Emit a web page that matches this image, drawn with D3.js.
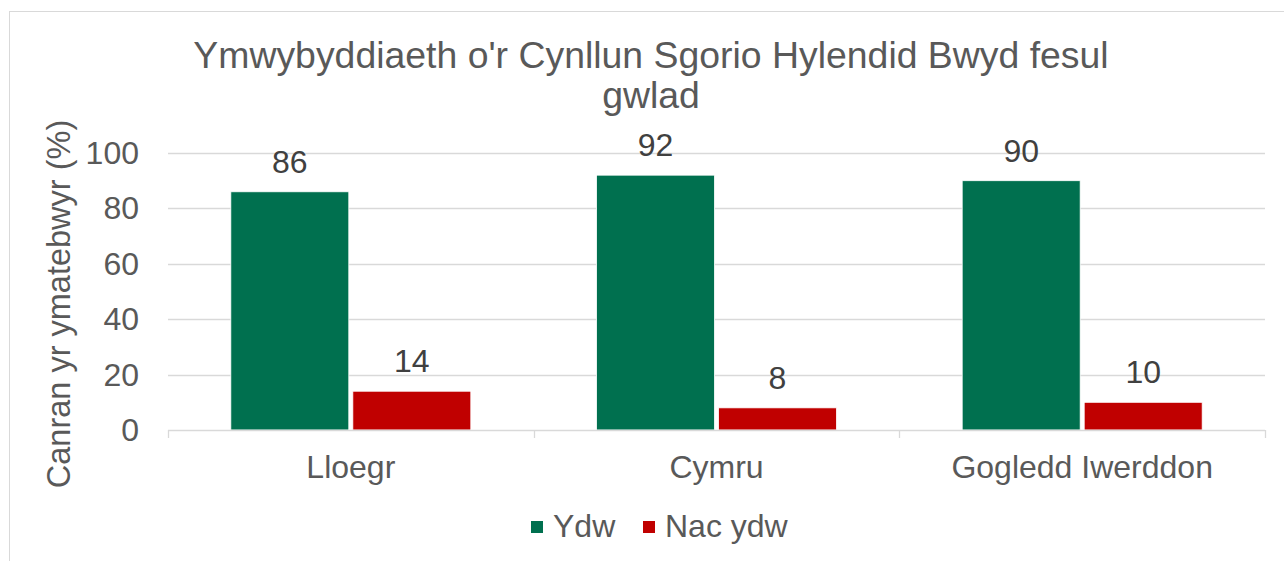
<!DOCTYPE html>
<html><head><meta charset="utf-8">
<script src="https://cdn.jsdelivr.net/npm/d3@7"></script>
<style>body{margin:0;background:#fff}svg{display:block;font-family:"Liberation Sans",Arial,sans-serif}</style>
</head><body>
<svg id="c" width="1284" height="561"></svg>
<script>
const categories = ["Lloegr", "Cymru", "Gogledd Iwerddon"];
const seriesNames = ["Ydw", "Nac ydw"];
const ydw = [86, 92, 90];
const nacYdw = [14, 8, 10];
const yTicks = [0, 20, 40, 60, 80, 100];
const titleLines = ["Ymwybyddiaeth o'r Cynllun Sgorio Hylendid Bwyd fesul", "gwlad"];
const yTitle = "Canran yr ymatebwyr (%)";
const colors = ["#00704F", "#C00000"];

(function () {
const svg = d3.select("#c");
const textCol = "#595959";
const pLeft = 168, pRight = 1265, pTop = 153, pBottom = 430;

svg.append("rect").attr("x", 9.5).attr("y", 11.5).attr("width", 1290).attr("height", 560)
  .attr("fill", "#fff").attr("stroke", "#d9d9d9").attr("stroke-width", 1);

const x = d3.scaleBand().domain(categories).range([pLeft, pRight]).paddingInner(0.3437).paddingOuter(0.1718);
const xs = d3.scaleBand().domain(seriesNames).range([0, x.bandwidth()]).paddingInner(0.033);
const y = d3.scaleLinear().domain([0, 100]).range([pBottom, pTop]);

svg.append("g").selectAll("line").data(yTicks.filter(d => d > 0)).join("line")
  .attr("x1", pLeft).attr("x2", pRight)
  .attr("y1", d => Math.round(y(d)) + 0.5).attr("y2", d => Math.round(y(d)) + 0.5)
  .attr("stroke", "#d9d9d9").attr("stroke-width", 1.3);

svg.append("g").selectAll("text").data(yTicks).join("text")
  .attr("x", 139).attr("y", d => y(d) + 11)
  .attr("text-anchor", "end").attr("font-size", 32).attr("fill", textCol)
  .text(d => d);

const series = [ydw, nacYdw];
const g = svg.append("g");
categories.forEach((c, i) => {
  seriesNames.forEach((s, j) => {
    const v = series[j][i];
    g.append("rect")
      .attr("x", x(c) + xs(s)).attr("width", xs.bandwidth())
      .attr("y", y(v)).attr("height", y(0) - y(v))
      .attr("fill", colors[j]).attr("stroke", "#fff").attr("stroke-width", 0.8);
    g.append("text")
      .attr("x", x(c) + xs(s) + xs.bandwidth() / 2).attr("y", y(v) - 19)
      .attr("text-anchor", "middle").attr("font-size", 32).attr("fill", "#404040")
      .text(v);
  });
});

svg.append("line").attr("x1", pLeft).attr("x2", pRight).attr("y1", pBottom + 0.5).attr("y2", pBottom + 0.5)
  .attr("stroke", "#d9d9d9").attr("stroke-width", 1.3);
const bounds = categories.map(c => x(c) - x.step() * x.paddingInner() / 2).concat([pRight]);
svg.append("g").selectAll("line").data(bounds).join("line")
  .attr("x1", d => Math.round(d) + 0.5).attr("x2", d => Math.round(d) + 0.5)
  .attr("y1", pBottom).attr("y2", pBottom + 8).attr("stroke", "#d9d9d9").attr("stroke-width", 1.3);
svg.append("g").selectAll("text").data(categories).join("text")
  .attr("x", d => x(d) + x.bandwidth() / 2).attr("y", 478)
  .attr("text-anchor", "middle").attr("font-size", 32).attr("fill", textCol).text(d => d);

svg.append("g").selectAll("text").data(titleLines).join("text")
  .attr("x", 651).attr("y", (d, i) => 68 + i * 40)
  .attr("text-anchor", "middle").attr("font-size", 37.4).attr("fill", textCol).text(d => d);

svg.append("text").attr("transform", "translate(70,304) rotate(-90)")
  .attr("text-anchor", "middle").attr("font-size", 32.5).attr("fill", textCol).text(yTitle);

const legX = [531, 643];
seriesNames.forEach((s, j) => {
  svg.append("rect").attr("x", legX[j]).attr("y", 521).attr("width", 12).attr("height", 12).attr("fill", colors[j]);
  svg.append("text").attr("x", legX[j] + 22).attr("y", 537).attr("font-size", 32).attr("fill", textCol).text(s);
});
})();
</script>
</body></html>
